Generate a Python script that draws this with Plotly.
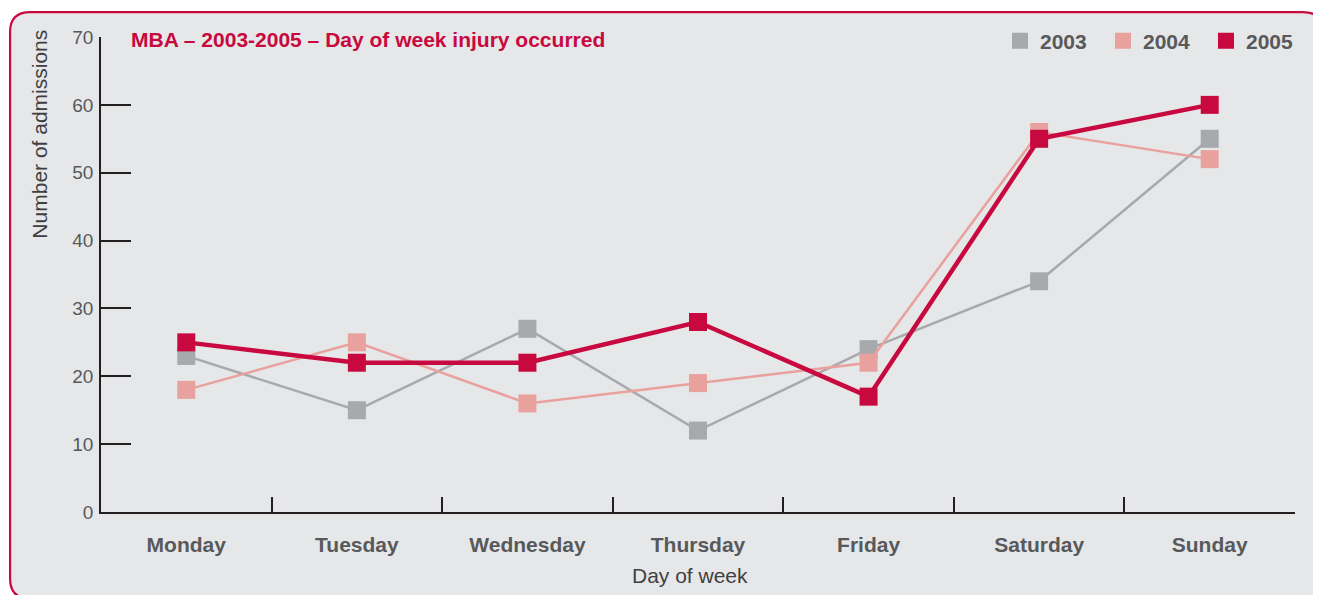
import plotly.graph_objects as go

days = ["Monday", "Tuesday", "Wednesday", "Thursday", "Friday", "Saturday", "Sunday"]
y2003 = [23, 15, 27, 12, 24, 34, 55]
y2004 = [18, 25, 16, 19, 22, 56, 52]
y2005 = [25, 22, 22, 28, 17, 55, 60]
series_names = ["2003", "2004", "2005"]
y_ticks = [0, 10, 20, 30, 40, 50, 60, 70]

OFF = 8  # page body margin: screen = figure + 8
W, H = 1321 - OFF, 595 - OFF
# target screen positions of plot area
SX0, SX1, SY0, SY1 = 101, 1296, 35, 512
ML = SX0 - OFF
MR = W - (SX1 - OFF)
MT = SY0 - OFF
MB = H - (SY1 - OFF)
PW, PH = W - ML - MR, H - MT - MB

def px(sx):
    return (sx - OFF - ML) / PW

def py(sy):
    return (H - MB - (sy - OFF)) / PH

colors = {"2003": "#A7A9AC", "2004": "#E8A19D", "2005": "#C8093F"}
widths = {"2003": 2.5, "2004": 2.5, "2005": 4.5}
data = {"2003": y2003, "2004": y2004, "2005": y2005}

fig = go.Figure()
for name in series_names:
    fig.add_trace(go.Scatter(
        x=days, y=data[name], mode="lines+markers", name=name,
        line=dict(color=colors[name], width=widths[name]),
        marker=dict(symbol="square", size=18, color=colors[name]),
        showlegend=False, cliponaxis=False,
    ))
for name in series_names:
    fig.add_trace(go.Scatter(
        x=[None], y=[None], mode="markers", name=name,
        marker=dict(symbol="square", size=20, color=colors[name]),
        showlegend=True,
    ))

# rounded border (screen pixel coords -> paper)
L, T, R, B, r = 10, 10, 1324, 599, 20
pts = [
    ("M", L, T + r), ("Q", L, T, L + r, T), ("L", R - r, T), ("Q", R, T, R, T + r),
    ("L", R, B - r), ("Q", R, B, R - r, B), ("L", L + r, B), ("Q", L, B, L, B - r), ("Z",),
]
path = ""
for p in pts:
    if p[0] == "Z":
        path += " Z"
    elif p[0] == "Q":
        path += f" Q {px(p[1]):.5f},{py(p[2]):.5f} {px(p[3]):.5f},{py(p[4]):.5f}"
    else:
        path += f" {p[0]} {px(p[1]):.5f},{py(p[2]):.5f}"
fig.add_shape(type="path", path=path, xref="paper", yref="paper",
              line=dict(color="#C8093F", width=2.2), fillcolor="#E6E7E9", layer="below")

# axis titles placed as in the reference (y title sits near the top)
fig.add_annotation(text="Number of admissions", textangle=-90, xref="paper", yref="paper",
                   x=px(40), y=py(133), xanchor="center", yanchor="middle", showarrow=False,
                   font=dict(size=21, color="#3F3F41"))
fig.add_annotation(text="Day of week", xref="paper", yref="paper",
                   x=px(690), y=py(576), xanchor="center", yanchor="middle", showarrow=False,
                   font=dict(size=21, color="#3F3F41"))

fig.update_layout(
    width=W, height=H,
    margin=dict(l=ML, r=MR, t=MT, b=MB, pad=0),
    paper_bgcolor="white", plot_bgcolor="rgba(0,0,0,0)",
    font=dict(family="Liberation Sans", color="#58595B"),
    title=dict(text="MBA – 2003-2005 – Day of week injury occurred",
               xref="paper", x=px(131), xanchor="left",
               yref="container", y=1 - (40 - OFF) / H, yanchor="middle",
               font=dict(size=21, color="#C8093F", weight="bold")),
    legend=dict(orientation="h", xanchor="right", x=px(1310), yanchor="middle", y=py(39),
                bgcolor="rgba(0,0,0,0)", font=dict(size=21, weight="bold", color="#58595B"),
                itemwidth=30, entrywidth=58, tracegroupgap=0),
    xaxis=dict(
        type="category", range=[-0.5, 6.5], tickson="boundaries",
        showline=True, linecolor="#231F20", linewidth=1.5,
        ticks="inside", ticklen=15, tickwidth=1.5, tickcolor="#231F20",
        showgrid=False, zeroline=False,
        tickfont=dict(size=21, weight="bold", color="#58595B"),
        ticklabelstandoff=13,
    ),
    yaxis=dict(
        range=[0, 70], tickvals=y_ticks,
        showline=True, linecolor="#231F20", linewidth=1.5,
        ticks="inside", ticklen=30, tickwidth=1.5, tickcolor="#231F20",
        showgrid=False, zeroline=False,
        tickfont=dict(size=19, color="#58595B"),
        ticklabelstandoff=2,
    ),
)

fig.write_html("out.html")
